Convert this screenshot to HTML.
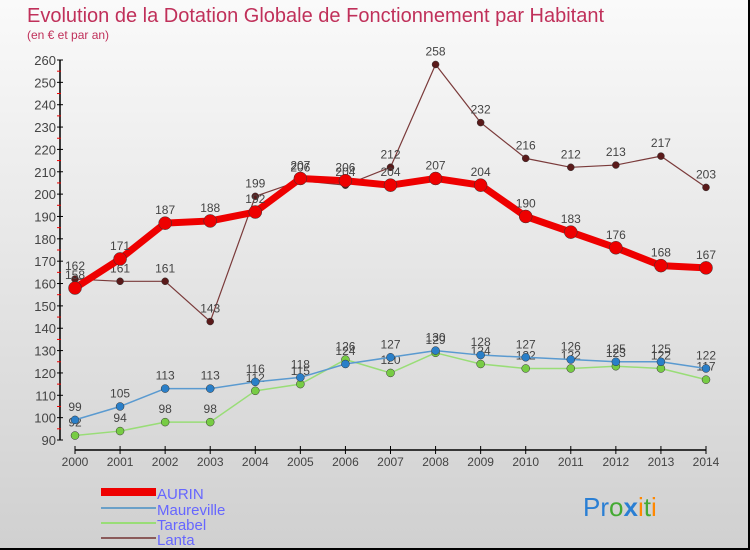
<!DOCTYPE html>
<html><head><meta charset="utf-8"><style>
html,body{margin:0;padding:0;}
body{width:750px;height:550px;overflow:hidden;font-family:"Liberation Sans",sans-serif;}
#wrap{position:relative;width:748px;height:548px;border:1px solid #000;border-width:0 2px 2px 0;background:linear-gradient(#fafafa,#d0d0d0);}
svg{position:absolute;left:0;top:0;}
</style></head><body>
<div id="wrap">
<svg id="chart" width="750" height="550">
<text x="27" y="22" font-size="20" fill="#c0305a">Evolution de la Dotation Globale de Fonctionnement par Habitant</text>
<text x="27" y="39" font-size="12" fill="#c0305a">(en € et par an)</text>
<g id="axes"></g><g id="series"></g>
<g>
<rect x="101" y="488" width="55" height="8" fill="#ee0000"/>
<text x="157" y="499" font-size="15" fill="#6666ff">AURIN</text>
<line x1="101" y1="508" x2="156" y2="508" stroke="#6aa0c8" stroke-width="2"/>
<text x="157" y="515" font-size="15" fill="#6666ff">Maureville</text>
<line x1="101" y1="523" x2="156" y2="523" stroke="#99dd77" stroke-width="2"/>
<text x="157" y="530" font-size="15" fill="#6666ff">Tarabel</text>
<line x1="101" y1="538" x2="156" y2="538" stroke="#8a5a5a" stroke-width="2"/>
<text x="157" y="545" font-size="15" fill="#6666ff">Lanta</text>
</g>
<g font-size="26" font-family="'Liberation Sans',sans-serif">
<text x="583" y="516"><tspan fill="#2a7fd4">Pr</tspan><tspan fill="#44aa33">o</tspan><tspan fill="#2a7fd4" font-weight="bold">x</tspan><tspan fill="#ff8800">i</tspan><tspan fill="#44aa33">t</tspan><tspan fill="#ff8800">i</tspan></text>
</g>
</svg></div>
<script>
const years=["2000","2001","2002","2003","2004","2005","2006","2007","2008","2009","2010","2011","2012","2013","2014"];
const yTicks=[90,100,110,120,130,140,150,160,170,180,190,200,210,220,230,240,250,260];
const aurin=[158,171,187,188,192,207,206,204,207,204,190,183,176,168,167];
const maureville=[99,105,113,113,116,118,124,127,130,128,127,126,125,125,122];
const tarabel=[92,94,98,98,112,115,126,120,129,124,122,122,123,122,117];
const lanta=[162,161,161,143,199,206,204,212,258,232,216,212,213,217,203];
const NS="http://www.w3.org/2000/svg";
const xS=i=>75+i*(706-75)/(years.length-1);
const yS=v=>440-(v-90)*(380/170);
function mk(t,a,p){const e=document.createElementNS(NS,t);for(const k in a)e.setAttribute(k,a[k]);p.appendChild(e);return e;}
const ax=document.getElementById('axes');
const yl=mk('line',{x1:60,y1:yS(260),x2:60,y2:yS(90),stroke:'#000','stroke-width':1.5},ax);


yTicks.forEach(v=>{
 mk('line',{x1:57,y1:yS(v),x2:63,y2:yS(v),stroke:'#000'},ax);
 if(v<260) mk('line',{x1:57,y1:yS(v+5),x2:61,y2:yS(v+5),stroke:'#e00'},ax);
 const t=mk('text',{x:56,y:yS(v)+5,'font-size':13,'text-anchor':'end',fill:'#444'},ax);t.textContent=v;
 
 
});
const xl=mk('line',{x1:75,y1:450,x2:706,y2:450,stroke:'#000','stroke-width':1.5},ax);


years.forEach((y,i)=>{
 mk('line',{x1:xS(i),y1:446,x2:xS(i),y2:454,stroke:'#000'},ax);
 const t=mk('text',{x:xS(i),y:466,'font-size':12,'text-anchor':'middle',fill:'#444'},ax);t.textContent=y;
 
 
});
const sg=document.getElementById('series');
function draw(name,data,col,w,r,dotFill){
 const g=mk('g',{},sg);
 
 
 const pl=mk('polyline',{points:data.map((v,i)=>xS(i)+','+yS(v)).join(' '),fill:'none',stroke:col,'stroke-width':w,'stroke-linejoin':'round'},g);
 
 
 data.forEach((v,i)=>{
  const c=mk('circle',{cx:xS(i),cy:yS(v),r:r,fill:dotFill,stroke:'#333','stroke-width':0.5},g);
  
  
  const t=mk('text',{x:xS(i),y:yS(v)-9,'font-size':12,'text-anchor':'middle',fill:'#444'},g);t.textContent=v;
  
  
 });
}
draw('lanta',lanta,'#7a3a3a',1.2,3.5,'#5a1a1a');
draw('tarabel',tarabel,'#99dd77',1.5,4,'#77cc44');
draw('maureville',maureville,'#5a9ad0',1.5,4,'#2a7fc8');
draw('aurin',aurin,'#ee0000',7,6.5,'#ee0000');
</script>
</body></html>
